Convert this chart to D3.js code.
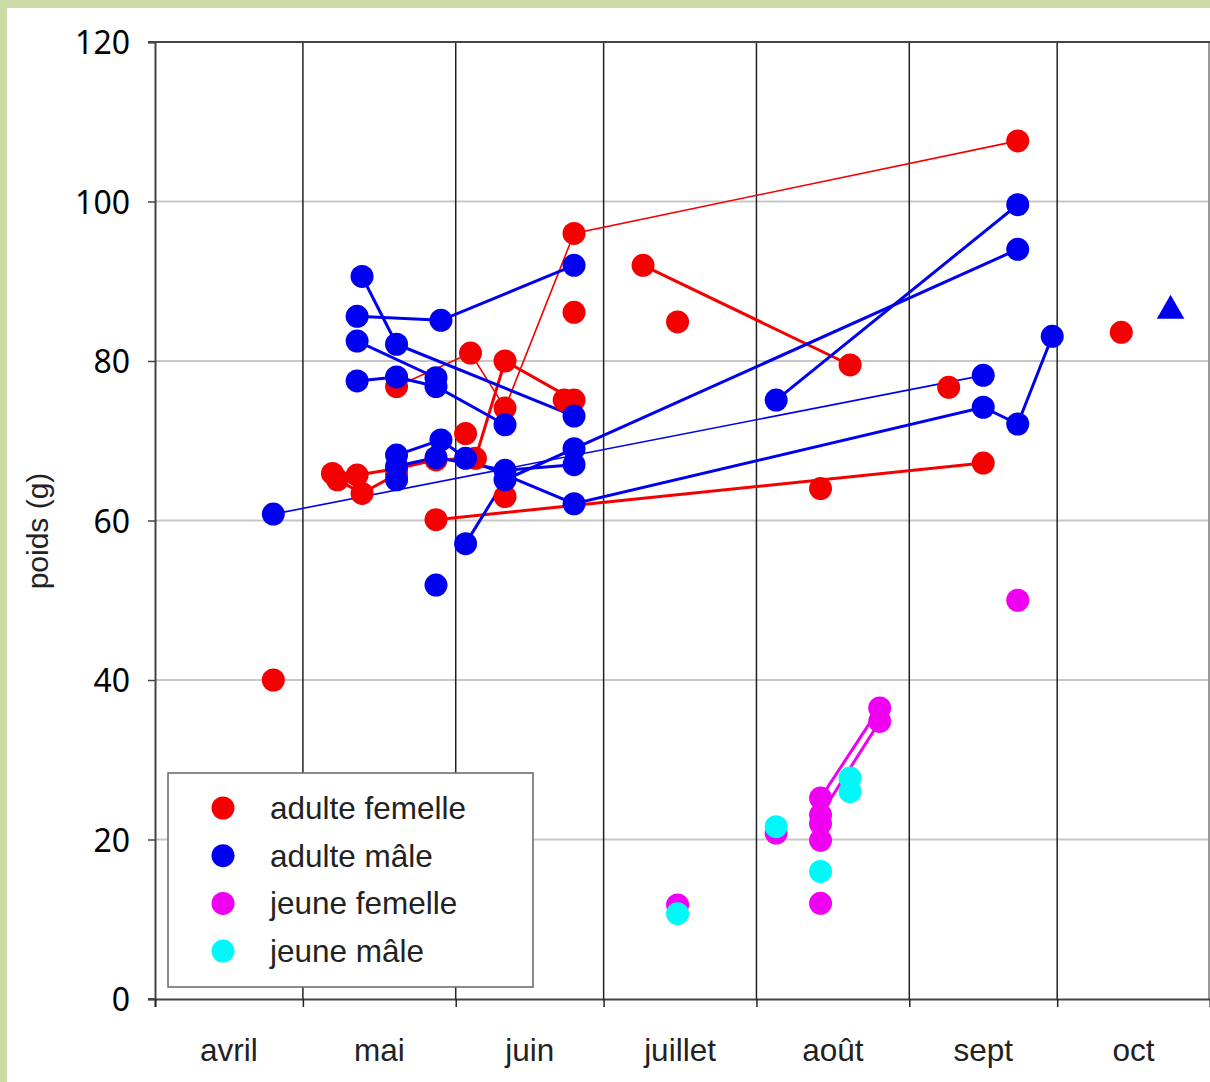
<!DOCTYPE html>
<html>
<head>
<meta charset="utf-8">
<script src="https://cdn.jsdelivr.net/npm/d3@7"></script>
<style>
  body { margin: 0; background: #cddba6; }
  svg { display: block; }
</style>
</head>
<body>
<svg id="chart"></svg>
<script>
// month names shown under the axis
var months = ["avril", "mai", "juin", "juillet", "août", "sept", "oct"]
var yTicks = [0, 20, 40, 60, 80, 100, 120]

// each series = list of tracks, a track = successive weighings of one animal [date "MM-DD", weight g]
var adulteFemelle = [
  [["05-20", 76.8], ["06-04", 81.0], ["06-11", 74.1], ["06-25", 96.0], ["09-23", 107.6]],
  [["05-07", 65.9], ["05-12", 65.7], ["05-20", 66.5], ["05-28", 67.6], ["06-05", 67.8], ["06-11", 80.0], ["06-25", 75.1]],
  [["05-08", 65.1], ["05-13", 63.4], ["05-20", 65.8]],
  [["05-28", 60.1], ["09-16", 67.2]],
  [["07-09", 92.0], ["08-20", 79.5]],
  [["04-25", 40.0]],
  [["06-03", 70.9]],
  [["06-11", 63.0]],
  [["06-23", 75.1]],
  [["06-25", 86.1]],
  [["07-16", 84.9]],
  [["08-14", 64.0]],
  [["09-09", 76.7]],
  [["10-14", 83.6]]
]

var adulteMale = [
  [["05-13", 90.6], ["05-20", 82.1], ["06-25", 73.1]],
  [["05-12", 85.6], ["05-29", 85.1], ["06-25", 92.0]],
  [["05-12", 82.5], ["05-28", 77.9]],
  [["05-12", 77.5], ["05-20", 78.0], ["05-28", 76.8], ["06-11", 72.0]],
  [["05-20", 68.2], ["05-29", 70.1], ["06-03", 67.8], ["06-25", 62.1], ["09-16", 74.2], ["09-23", 72.1], ["09-30", 83.1]],
  [["05-20", 66.8], ["05-28", 67.9], ["06-11", 66.3], ["06-25", 67.0]],
  [["06-03", 57.1], ["06-11", 65.1], ["06-25", 69.0], ["09-23", 94.0]],
  [["08-05", 75.1], ["09-23", 99.6]],
  [["05-20", 65.1]],
  [["05-28", 51.9]]
]
// adult male track drawn with a finer line
var thinMale = [["04-25", 60.8], ["09-16", 78.2]]

var jeuneFemelle = [
  [["08-14", 25.2], ["08-26", 36.5]],
  [["08-14", 23.1], ["08-26", 34.8]],
  [["07-16", 11.8]],
  [["08-05", 20.8]],
  [["08-14", 22.0]],
  [["08-14", 19.9]],
  [["08-14", 12.0]],
  [["09-23", 50.0]]
]

var jeuneMale = [
  [["07-16", 10.7]],
  [["08-05", 21.6]],
  [["08-14", 16.0]],
  [["08-20", 27.7]],
  [["08-20", 26.0]]
]

// single triangle marker (adult male, October)
var triangleMale = [["10-24", 86.3]]

var legendLabels = ["adulte femelle", "adulte mâle", "jeune femelle", "jeune mâle"]
var colors = ["#f50000", "#0000f0", "#f000f0", "#00f8f8"]

var width = 1210, height = 1082
var plot = { left: 155, right: 1210, top: 42, bottom: 999 }

function parseDate(s) {
  var p = s.split("-")
  return new Date(2001, +p[0] - 1, +p[1])
}

var x = d3.scaleTime()
  .domain([new Date(2001, 3, 1), new Date(2001, 10, 1)])
  .range([plot.left, plot.right])
var y = d3.scaleLinear().domain([0, 120]).range([plot.bottom, plot.top])

var svg = d3.select("#chart").attr("width", width).attr("height", height)

svg.append("rect").attr("x", 7).attr("y", 8)
  .attr("width", width - 7).attr("height", height - 8).attr("fill", "#fff")

// horizontal grid
svg.append("g").selectAll("line")
  .data(yTicks.filter(d => d > 0 && d < 120)).enter().append("line")
  .attr("x1", plot.left).attr("x2", plot.right - 1)
  .attr("y1", d => y(d)).attr("y2", d => y(d))
  .attr("stroke", "#c8c8c8").attr("stroke-width", 2)

// vertical month lines
var monthStarts = d3.timeMonth.range(new Date(2001, 4, 1), new Date(2001, 10, 1))
svg.append("g").selectAll("line")
  .data(monthStarts).enter().append("line")
  .attr("x1", d => x(d)).attr("x2", d => x(d))
  .attr("y1", plot.top).attr("y2", plot.bottom)
  .attr("stroke", "#222")
  .attr("stroke-width", 1.5)

// right border
svg.append("line").attr("x1", plot.right - 1).attr("x2", plot.right - 1)
  .attr("y1", plot.top).attr("y2", plot.bottom)
  .attr("stroke", "#999").attr("stroke-width", 2)

// top border
svg.append("line").attr("x1", plot.left - 7).attr("x2", plot.right)
  .attr("y1", plot.top).attr("y2", plot.top)
  .attr("stroke", "#444").attr("stroke-width", 2)

// axes
var yAxis = d3.axisLeft(y).tickValues(yTicks).tickSize(7).tickPadding(18)
var gy = svg.append("g").attr("transform", `translate(${plot.left},0)`).call(yAxis)
gy.select(".domain").attr("stroke", "#444").attr("stroke-width", 2)
gy.selectAll(".tick line").attr("stroke", "#444").attr("stroke-width", 1.5)
gy.selectAll(".tick text")
  .attr("font-family", "'Noto Sans', sans-serif").attr("font-size", 32)
  .attr("fill", "#000").attr("dy", "0.36em")

var xAxis = d3.axisBottom(x).ticks(d3.timeMonth.every(1)).tickSize(8).tickFormat("")
var gx = svg.append("g").attr("transform", `translate(0,${plot.bottom})`).call(xAxis)
gx.select(".domain").attr("stroke", "#444").attr("stroke-width", 2)
gx.selectAll(".tick line").attr("stroke", "#222").attr("stroke-width", 1.5)
svg.append("line").attr("x1", plot.left - 7).attr("x2", plot.left)
  .attr("y1", plot.bottom).attr("y2", plot.bottom).attr("stroke", "#444").attr("stroke-width", 2)

// month labels in the middle of each month
var monthMids = d3.timeMonth.range(new Date(2001, 3, 1), new Date(2001, 10, 1))
svg.append("g").selectAll("text")
  .data(monthMids).enter().append("text")
  .attr("x", d => (x(d) + x(d3.timeMonth.offset(d, 1))) / 2)
  .attr("y", 1061)
  .attr("text-anchor", "middle")
  .attr("font-family", "'Liberation Sans', Arial, sans-serif").attr("font-size", 31.5)
  .attr("fill", "#222")
  .text((d, i) => months[i])

svg.append("text")
  .attr("transform", "translate(48,531) rotate(-90)")
  .attr("text-anchor", "middle")
  .attr("font-family", "'Liberation Sans', Arial, sans-serif").attr("font-size", 30)
  .attr("fill", "#222")
  .text("poids (g)")

var series = [adulteFemelle, adulteMale, jeuneFemelle, jeuneMale]
var line = d3.line().x(d => x(parseDate(d[0]))).y(d => y(d[1]))

// lines first
series.forEach(function(tracks, s) {
  svg.append("g").selectAll("path")
    .data(tracks.filter(t => t.length > 1)).enter().append("path")
    .attr("d", line)
    .attr("fill", "none")
    .attr("stroke", colors[s])
    .attr("stroke-width", t => (s == 0 && tracks.indexOf(t) == 0) ? 1.6 : 3)
  if (s == 1) {
    svg.append("path").attr("d", line(thinMale)).attr("fill", "none")
      .attr("stroke", colors[1]).attr("stroke-width", 1.6)
  }
})

// points on top
series.forEach(function(tracks, s) {
  var pts = tracks.flat()
  if (s == 1) pts = pts.concat(thinMale)
  svg.append("g").selectAll("circle")
    .data(pts).enter().append("circle")
    .attr("cx", d => x(parseDate(d[0])))
    .attr("cy", d => y(d[1]))
    .attr("r", 11.5)
    .attr("fill", colors[s])
})

svg.append("g").selectAll("path")
  .data(triangleMale).enter().append("path")
  .attr("transform", d => `translate(${x(parseDate(d[0]))},${y(d[1])})`)
  .attr("d", d3.symbol().type(d3.symbolTriangle).size(330))
  .attr("fill", colors[1])

// legend
var legend = svg.append("g")
legend.append("rect").attr("x", 168).attr("y", 773).attr("width", 365).attr("height", 214)
  .attr("fill", "#fff").attr("stroke", "#666").attr("stroke-width", 1.5)
legendLabels.forEach(function(lbl, i) {
  var cy = 808 + i * 47.7
  legend.append("circle").attr("cx", 223).attr("cy", cy).attr("r", 11.5).attr("fill", colors[i])
  legend.append("text").attr("x", 270).attr("y", cy + 11)
    .attr("font-family", "'Liberation Sans', Arial, sans-serif").attr("font-size", 31.5)
    .attr("fill", "#222").text(lbl)
})
</script>
</body>
</html>
